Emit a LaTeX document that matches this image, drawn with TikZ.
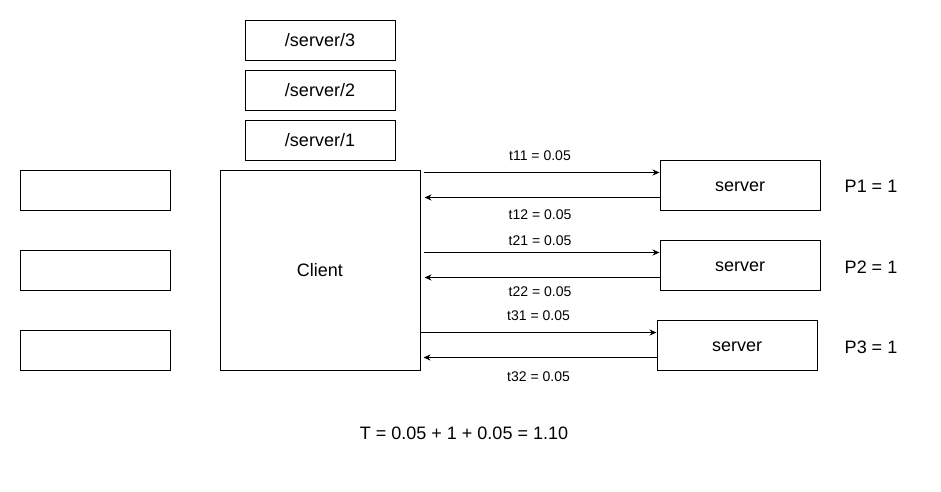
\documentclass[tikz,border=0pt]{standalone}
\usepackage{fontspec}
\setmainfont{Liberation Sans}
\usetikzlibrary{arrows.meta}

\begin{document}
\begin{tikzpicture}[x=1pt,y=-1pt,line width=1pt,
    box/.style={draw,minimum width=150pt,minimum height=40pt,text height=13pt,text depth=0pt,font=\fontsize{18}{21}\selectfont},
    srv/.style={box,minimum width=160pt,minimum height=50pt},
    txt/.style={font=\fontsize{18}{21}\selectfont},
    lbl/.style={font=\fontsize{14}{16}\selectfont},
    >={Stealth[length=7pt,width=6pt]}]
        \useasboundingbox(0,0)rectangle(941,491);

        % empty boxes on the left
        \node[box](e1)at(95,190){};
        \node[box](e2)at(95,270){};
        \node[box](e3)at(95,350){};

        % paths
        \node[box](p3)at(320,40){/server/3};
        \node[box](p2)at(320,90){/server/2};
        \node[box](p1)at(320,140){/server/1};

        \node[box,minimum width=200pt,minimum height=200pt](client)at(320,270){Client};

        \node[srv](s1)at(740,185){server};
        \node[srv](s2)at(740,265){server};
        \node[srv](s3)at(737,345){server};

        \node[txt](P1)at(871,186){P1 = 1};
        \node[txt](P2)at(871,267){P2 = 1};
        \node[txt](P3)at(871,347){P3 = 1};

        \coordinate(a1)at([yshift=12.5pt]s1.west);
        \coordinate(b1)at([yshift=-12.5pt]s1.west);
        \coordinate(a2)at([yshift=12.5pt]s2.west);
        \coordinate(b2)at([yshift=-12.5pt]s2.west);
        \coordinate(a3)at([yshift=12.5pt]s3.west);
        \coordinate(b3)at([yshift=-12.5pt]s3.west);

        \draw[->,shorten <=3pt](client.east|-a1)--(a1)node[lbl,midway,yshift=17pt]{t11 = 0.05};
        \draw[->,shorten >=4pt](b1)--(client.east|-b1)node[lbl,midway,yshift=-17pt]{t12 = 0.05};
        \draw[->,shorten <=3pt](client.east|-a2)--(a2)node[lbl,midway,yshift=12pt]{t21 = 0.05};
        \draw[->,shorten >=4pt](b2)--(client.east|-b2)node[lbl,midway,yshift=-14pt]{t22 = 0.05};
        \draw[->](client.east|-a3)--(a3)node[lbl,midway,yshift=17pt]{t31 = 0.05};
        \draw[->,shorten >=3pt](b3)--(client.east|-b3)node[lbl,midway,yshift=-19pt]{t32 = 0.05};

        \node[txt](total)at(464,433){T = 0.05 + 1 + 0.05 = 1.10};
\end{tikzpicture}
\end{document}
